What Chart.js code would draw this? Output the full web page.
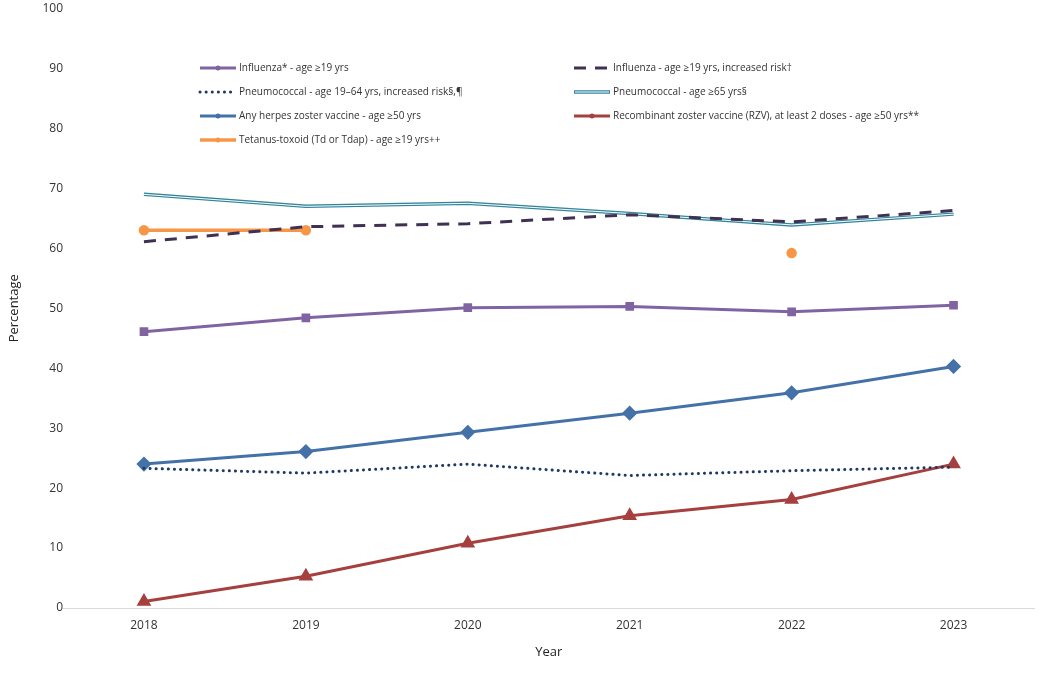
<!DOCTYPE html>
<html><head><meta charset="utf-8">
<script src="https://cdn.jsdelivr.net/npm/chart.js@4/dist/chart.umd.min.js"></script>
<style>html,body{margin:0;padding:0;background:#fff}#w{width:1043px;height:681px}</style>
</head><body><div id="w"><canvas id="c"></canvas></div>
<script>
const years = ['2018','2019','2020','2021','2022','2023'];
const influenza = [46.1, 48.4, 50.1, 50.3, 49.4, 50.5];
const influenzaRisk = [61.1, 63.6, 64.1, 65.6, 64.4, 66.3];
const pneumoRisk = [23.3, 22.5, 24.0, 22.1, 22.9, 23.5];
const pneumo65 = [69.0, 67.0, 67.5, 65.8, 63.9, 65.7];
const herpes = [24.0, 26.1, 29.3, 32.5, 35.9, 40.3];
const rzv = [1.1, 5.3, 10.8, 15.4, 18.1, 24.0];
const tetanus = [63.0, 63.0, null, null, 59.2, null];
const labels = ['Influenza* - age ≥19 yrs','Influenza - age ≥19 yrs, increased risk†','Pneumococcal - age 19–64 yrs, increased risk§,¶','Pneumococcal - age ≥65 yrs§','Any herpes zoster vaccine - age ≥50 yrs','Recombinant zoster vaccine (RZV), at least 2 doses - age ≥50 yrs**','Tetanus-toxoid (Td or Tdap) - age ≥19 yrs++'];

const ds = [
 {label:labels[0],data:influenza,borderColor:'#8064A2',borderWidth:3,pointStyle:'rect',pointRadius:4},
 {label:labels[1],data:influenzaRisk,borderColor:'#403152',borderWidth:3,borderDash:[12,9],pointRadius:0},
 {label:labels[2],data:pneumoRisk,borderColor:'#1F3864',borderWidth:3,borderDash:[0.1,6],borderCapStyle:'round',pointRadius:0},
 {label:'_inner',data:pneumo65,borderColor:'#ffffff',borderWidth:1,pointRadius:0},
 {label:labels[3],data:pneumo65,borderColor:'#31859C',borderWidth:3.5,pointRadius:0},
 {label:labels[4],data:herpes,borderColor:'#4472A8',borderWidth:3,pointStyle:'rectRot',pointRadius:5.5},
 {label:labels[5],data:rzv,borderColor:'#A5403E',borderWidth:3,pointStyle:'triangle',pointRadius:5.5},
 {label:labels[6],data:tetanus,borderColor:'#F79646',borderWidth:3.5,pointStyle:'circle',pointRadius:3.5,spanGaps:false}
];
ds.forEach(d=>{d.tension=0;d.fill=false;d.pointBorderColor=d.borderColor;d.pointBackgroundColor=d.borderColor;d.backgroundColor=d.borderColor;});

const legendPlugin={id:'lg',afterDraw(ch){
  const c=ch.ctx;const items=ch.data.datasets.filter(d=>d.label!=='_inner');
  const cols=[200,574],rows=[68,92,116,140];
  c.save();c.font='10px "Open Sans"';c.textBaseline='middle';
  items.forEach((d,i)=>{const x=cols[i%2],y=rows[Math.floor(i/2)];
    c.beginPath();c.strokeStyle=d.borderColor;c.lineWidth=d.borderWidth;c.setLineDash(d.borderDash||[]);c.lineCap=d.borderCapStyle||'butt';
    c.moveTo(x,y);c.lineTo(x+36,y);c.stroke();c.setLineDash([]);c.lineCap='butt';
    if(d.label===labels[3]){c.beginPath();c.strokeStyle='#fff';c.lineWidth=1;c.moveTo(x+1,y);c.lineTo(x+35,y);c.stroke();}
    if(d.pointRadius>0){c.fillStyle=d.borderColor;c.beginPath();c.arc(x+18,y,2.5,0,Math.PI*2);c.fill();}
    c.fillStyle='#333';c.fillText(d.label,x+39,y);});
  c.restore();}};

new Chart(document.getElementById('c'),{type:'line',data:{labels:years,datasets:ds},
 options:{responsive:true,maintainAspectRatio:false,animation:false,
  layout:{padding:{left:2,right:8,top:-2,bottom:17}},
  plugins:{legend:{display:false},tooltip:{enabled:false}},
  scales:{
   x:{offset:true,grid:{display:false,drawTicks:false},border:{display:true,color:'#d9d9d9'},ticks:{color:'#333',font:{size:12,family:'Open Sans'},padding:10},
      title:{display:true,text:'Year',color:'#222',font:{size:13,family:'Open Sans'},padding:{top:2}}},
   y:{min:0,max:100,ticks:{stepSize:10,color:'#333',font:{size:12,family:'Open Sans'},padding:0},grid:{display:false,drawTicks:false},border:{display:false},
      afterFit(s){s.width=61;},
      title:{display:true,text:'Percentage',color:'#222',font:{size:13,family:'Open Sans'}}}
  }},plugins:[legendPlugin]});
</script></body></html>
